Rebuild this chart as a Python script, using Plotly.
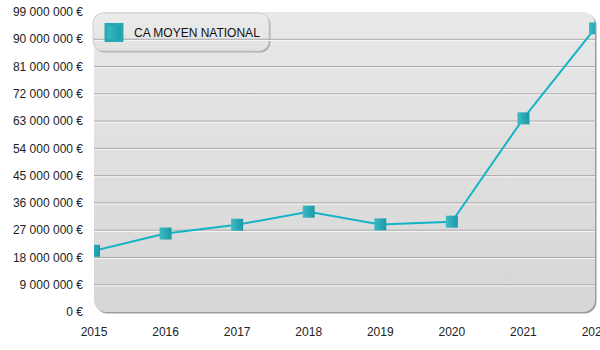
import base64
import plotly.graph_objects as go

# Chiffre d'affaires moyen national par année
years = [2015, 2016, 2017, 2018, 2019, 2020, 2021, 2022]
ca_moyen = [20_200_000, 25_900_000, 28_800_000, 33_100_000,
            28_900_000, 29_800_000, 63_900_000, 93_600_000]
series_name = "CA MOYEN NATIONAL"

y_tickvals = [0, 9_000_000, 18_000_000, 27_000_000, 36_000_000, 45_000_000,
              54_000_000, 63_000_000, 72_000_000, 81_000_000, 90_000_000, 99_000_000]
y_ticktext = ["0 €", "9 000 000 €", "18 000 000 €", "27 000 000 €", "36 000 000 €",
              "45 000 000 €", "54 000 000 €", "63 000 000 €", "72 000 000 €",
              "81 000 000 €", "90 000 000 €", "99 000 000 €"]
x_tickvals = years
x_ticktext = [str(y) for y in years]

W, H = 600, 350
ML, MR, MT, MB = 94, 5, 12, 38
PW, PH = W - ML - MR, H - MT - MB

TEAL = "#14b4c6"
TEAL_LIGHT = "#3cbcc6"
TEAL_DARK = "#1a98a6"
FONT = "Liberation Sans, Arial, sans-serif"

# Decorative backdrop: rounded plot panel and legend box with soft shadow
svg = f"""<svg xmlns='http://www.w3.org/2000/svg' width='{W}' height='{H}' viewBox='0 0 {W} {H}'>
<defs>
<linearGradient id='bg' x1='0' y1='0' x2='0' y2='1'>
<stop offset='0' stop-color='#e8e8e8'/><stop offset='1' stop-color='#d6d6d6'/>
</linearGradient>
<linearGradient id='lg' x1='0' y1='0' x2='0' y2='1'>
<stop offset='0' stop-color='#ececec'/><stop offset='1' stop-color='#e2e2e2'/>
</linearGradient>
<filter id='sh' x='-5%' y='-5%' width='110%' height='110%'>
<feGaussianBlur stdDeviation='0.7'/>
</filter>
</defs>
<rect x='{ML + 1.5}' y='{MT + 1.5}' width='{PW}' height='{PH}' rx='12' fill='#9c9c9c' filter='url(#sh)'/>
<rect x='{ML}' y='{MT}' width='{PW}' height='{PH}' rx='12' fill='url(#bg)'/>
<rect x='94.5' y='14.5' width='176' height='38' rx='10' fill='#a8a8a8' filter='url(#sh)'/>
<rect x='93' y='13' width='176' height='38' rx='10' fill='url(#lg)' stroke='#d0d0d0' stroke-width='1'/>
</svg>"""
svg_uri = "data:image/svg+xml;base64," + base64.b64encode(svg.encode()).decode()

fig = go.Figure()

fig.add_trace(go.Scatter(
    x=years, y=ca_moyen, name=series_name, mode="lines+markers",
    line=dict(color=TEAL, width=2),
    marker=dict(symbol="square", size=12, color=TEAL_LIGHT,
                gradient=dict(type="horizontal", color=TEAL_DARK),
                line=dict(width=0)),
    showlegend=False,
    hovertemplate="%{x}<br>%{y:,.0f} €<extra></extra>",
))

# Legend entry drawn as a plain square
fig.add_trace(go.Scatter(
    x=[None], y=[None], name=series_name, mode="markers",
    marker=dict(symbol="square", size=16, color=TEAL_LIGHT,
                gradient=dict(type="horizontal", color=TEAL_DARK),
                line=dict(width=3, color="#27a9b5")),
    showlegend=True, hoverinfo="skip",
))

# Engraved grid lines: grey line with a white highlight just below
for v in y_tickvals[1:-1]:
    fig.add_shape(type="line", xref="paper", x0=0, x1=1, yref="y",
                  y0=v, y1=v, line=dict(color="#a8a8a8", width=1), layer="below")
    fig.add_shape(type="line", xref="paper", x0=0, x1=1, yref="y",
                  ysizemode="pixel", yanchor=v, y0=-1.2, y1=-1.2,
                  line=dict(color="#f6f6f6", width=1), layer="below")

fig.add_layout_image(
    source=svg_uri, xref="paper", yref="paper",
    x=-ML / PW, y=1 + MT / PH, sizex=W / PW, sizey=H / PH,
    xanchor="left", yanchor="top", sizing="stretch", layer="below",
)

fig.update_layout(
    width=W, height=H,
    margin=dict(l=ML, r=MR, t=MT, b=MB, pad=0, autoexpand=False),
    paper_bgcolor="white", plot_bgcolor="rgba(0,0,0,0)",
    font=dict(family=FONT, size=12, color="#222222"),
    showlegend=True,
    legend=dict(x=0, y=1 - 6 / PH, xanchor="left", yanchor="top",
                bgcolor="rgba(0,0,0,0)", borderwidth=0,
                font=dict(family=FONT, size=12, color="#111111")),
    xaxis=dict(range=[years[0], years[-1]], tickvals=x_tickvals, ticktext=x_ticktext,
               showgrid=False, zeroline=False, showline=False, ticks="",
               ticklabelstandoff=11, ticklabeloverflow="allow", automargin=False,
               fixedrange=True),
    yaxis=dict(range=[0, 99_000_000], tickvals=y_tickvals, ticktext=y_ticktext,
               showgrid=False, zeroline=False, showline=False, ticks="",
               ticklabelstandoff=10, automargin=False, fixedrange=True),
)

fig.write_html("out.html")
